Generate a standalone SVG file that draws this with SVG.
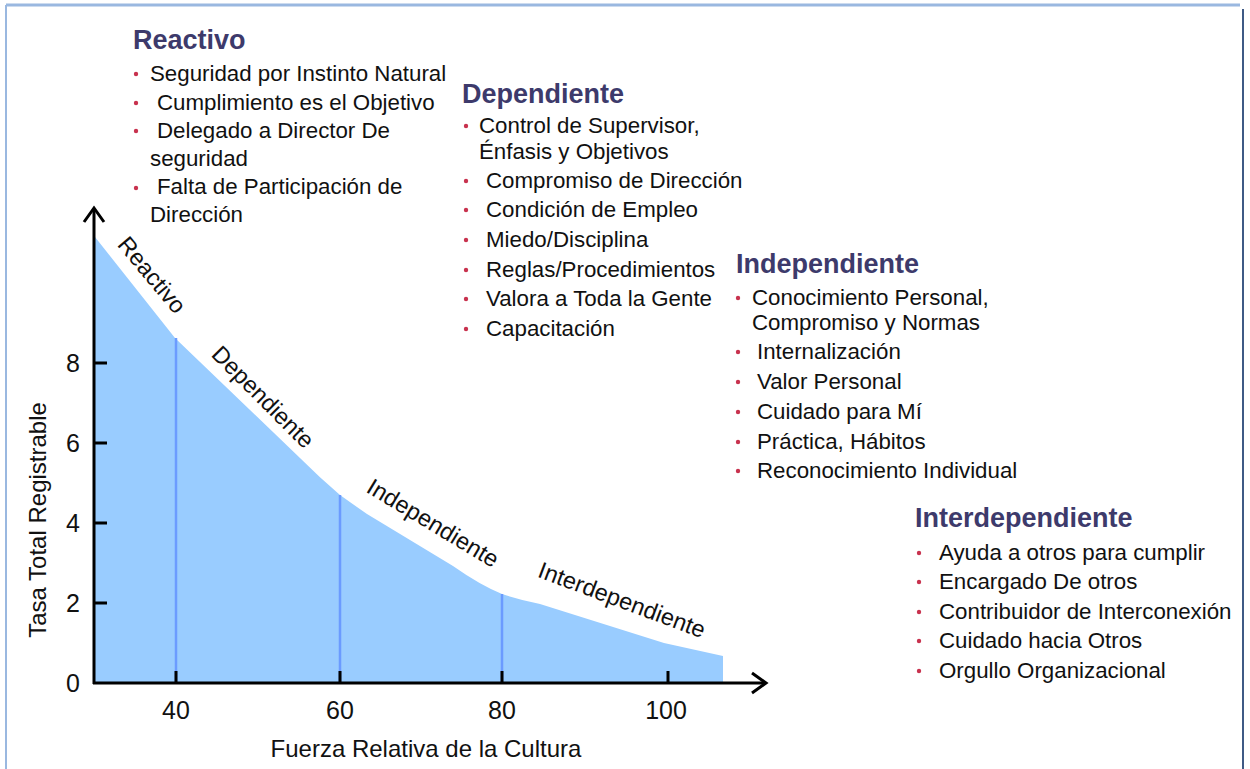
<svg xmlns="http://www.w3.org/2000/svg" width="1250" height="769" viewBox="0 0 1250 769">
<style>
.h{font-family:"Liberation Sans",Arial,sans-serif;font-weight:bold;font-size:27px;fill:#3d3a6b}
.t{font-family:"Liberation Sans",Arial,sans-serif;font-size:22.3px;fill:#111}
.b{fill:#c8324e}
.ax{font-family:"Liberation Sans",Arial,sans-serif;font-size:25px;fill:#111}
.lb{font-family:"Liberation Sans",Arial,sans-serif;font-size:24px;fill:#111}
.cl{font-family:"Liberation Sans",Arial,sans-serif;font-size:23.5px;fill:#111}
.vl{stroke:#6b9bff;stroke-width:2.5}
.k{stroke:#000;stroke-width:3;fill:none}
</style>
<rect width="1250" height="769" fill="#fff"/>
<g id="frame">
<line x1="6" y1="5" x2="1240" y2="5" stroke="#9ab8e0" stroke-width="3"/>
<line x1="6" y1="5" x2="6" y2="769" stroke="#9ab8e0" stroke-width="2"/>
<line x1="1243" y1="9" x2="1243" y2="769" stroke="#3f5a85" stroke-width="2"/>
</g>
<g id="chart">
<path d="M95,237 L175,338 L300,458 Q320,478 340,495 Q354,505 367,514 L453,566 Q480,585 502,594 Q520,600 540,604 L664,643 L723,656 L723,683 L95,683 Z" fill="#99ccff"/>
<line class="vl" x1="176" y1="338" x2="176" y2="683"/>
<line class="vl" x1="340" y1="495" x2="340" y2="683"/>
<line class="vl" x1="502" y1="594" x2="502" y2="683"/>
</g>
<g id="axes">
<line class="k" x1="94" y1="684" x2="94" y2="210"/>
<line class="k" x1="93" y1="683" x2="764" y2="683"/>
<path class="k" d="M84,222 L94,208 L104,222"/>
<path class="k" d="M752,673 L766,683 L752,693"/>
<path class="k" d="M95,363 H107 M95,443 H107 M95,523 H107 M95,603 H107"/>
<path class="k" d="M176,671 V683 M340,671 V683 M502,671 V683 M668,671 V683"/>
<g class="ax" text-anchor="middle">
<text x="73" y="372">8</text>
<text x="73" y="452">6</text>
<text x="73" y="532">4</text>
<text x="73" y="612">2</text>
<text x="73" y="692">0</text>
<text x="176" y="719">40</text>
<text x="340" y="719">60</text>
<text x="502" y="719">80</text>
<text x="666" y="719">100</text>
</g>
<text class="lb" x="426" y="757" text-anchor="middle">Fuerza Relativa de la Cultura</text>
<text class="lb" transform="translate(46,520) rotate(-90)" text-anchor="middle">Tasa Total Registrable</text>
</g>
<g id="curve-labels" class="cl" text-anchor="middle">
<text transform="translate(152,275) rotate(50)" dy="8">Reactivo</text>
<text transform="translate(263,397) rotate(45)" dy="8">Dependiente</text>
<text transform="translate(433,523) rotate(31)" dy="8">Independiente</text>
<text transform="translate(622,600) rotate(20.5)" dy="8">Interdependiente</text>
</g>
<g id="reactivo">
<text class="h" x="133" y="49">Reactivo</text>
<g class="b"><circle cx="136" cy="74" r="2.2"/><circle cx="136" cy="103" r="2.2"/><circle cx="136" cy="131" r="2.2"/><circle cx="136" cy="188" r="2.2"/></g>
<text class="t" x="150" y="81">Seguridad por Instinto Natural</text>
<text class="t" x="157" y="110">Cumplimiento es el Objetivo</text>
<text class="t" x="157" y="138">Delegado a Director De</text>
<text class="t" x="150" y="166">seguridad</text>
<text class="t" x="157" y="194">Falta de Participación de</text>
<text class="t" x="150" y="222">Dirección</text>
</g>
<g id="dependiente">
<text class="h" x="462" y="103">Dependiente</text>
<g class="b"><circle cx="466" cy="126" r="2.2"/><circle cx="466" cy="181" r="2.2"/><circle cx="466" cy="210" r="2.2"/><circle cx="466" cy="240" r="2.2"/><circle cx="466" cy="270" r="2.2"/><circle cx="466" cy="299" r="2.2"/><circle cx="466" cy="329" r="2.2"/></g>
<text class="t" x="479" y="133">Control de Supervisor,</text>
<text class="t" x="479" y="159">Énfasis y Objetivos</text>
<text class="t" x="486" y="188">Compromiso de Dirección</text>
<text class="t" x="486" y="217">Condición de Empleo</text>
<text class="t" x="486" y="247">Miedo/Disciplina</text>
<text class="t" x="486" y="277">Reglas/Procedimientos</text>
<text class="t" x="486" y="306">Valora a Toda la Gente</text>
<text class="t" x="486" y="336">Capacitación</text>
</g>
<g id="independiente">
<text class="h" x="736" y="273">Independiente</text>
<g class="b"><circle cx="738" cy="298" r="2.2"/><circle cx="738" cy="352" r="2.2"/><circle cx="738" cy="382" r="2.2"/><circle cx="738" cy="412" r="2.2"/><circle cx="738" cy="442" r="2.2"/><circle cx="738" cy="471" r="2.2"/></g>
<text class="t" x="752" y="305">Conocimiento Personal,</text>
<text class="t" x="752" y="330">Compromiso y Normas</text>
<text class="t" x="757" y="359">Internalización</text>
<text class="t" x="757" y="389">Valor Personal</text>
<text class="t" x="757" y="419">Cuidado para Mí</text>
<text class="t" x="757" y="449">Práctica, Hábitos</text>
<text class="t" x="757" y="478">Reconocimiento Individual</text>
</g>
<g id="interdependiente">
<text class="h" x="915" y="527">Interdependiente</text>
<g class="b"><circle cx="919" cy="553" r="2.2"/><circle cx="919" cy="582" r="2.2"/><circle cx="919" cy="612" r="2.2"/><circle cx="919" cy="641" r="2.2"/><circle cx="919" cy="671" r="2.2"/></g>
<text class="t" x="939" y="560">Ayuda a otros para cumplir</text>
<text class="t" x="939" y="589">Encargado De otros</text>
<text class="t" x="939" y="619">Contribuidor de Interconexión</text>
<text class="t" x="939" y="648">Cuidado hacia Otros</text>
<text class="t" x="939" y="678">Orgullo Organizacional</text>
</g>
</svg>
